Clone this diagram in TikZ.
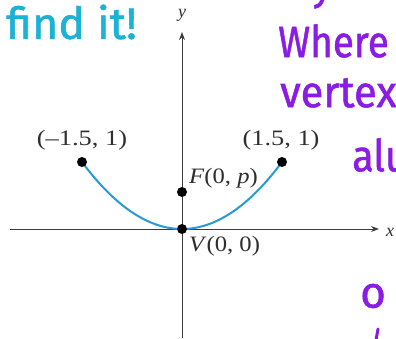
\documentclass[tikz,border=0pt]{standalone}
\usepackage{fontspec}
\setmainfont{Liberation Serif}
\newfontfamily\handfont{Fira Sans}[FakeBold=1.2]
\usetikzlibrary{arrows.meta}
\definecolor{hcyan}{RGB}{28,178,214}
\definecolor{hpurple}{RGB}{138,28,228}
\definecolor{curveblue}{RGB}{40,152,214}
\definecolor{axisgray}{RGB}{60,60,60}
\tikzset{
  axis/.style={draw=axisgray, line width=1pt, -{Stealth[length=8pt,width=6pt]}},
  dot/.style={circle, fill=black, inner sep=0pt, minimum size=10pt},
  lbl/.style={font=\fontsize{22}{26}\selectfont, text=black!82, inner sep=0pt},
  hcy/.style={font=\handfont\fontsize{44}{46}\selectfont, text=hcyan, inner sep=0pt, anchor=west},
  hpu/.style={font=\handfont\fontsize{44}{46}\selectfont, text=hpurple, inner sep=0pt, anchor=west},
}
\begin{document}
\begin{tikzpicture}[x=1pt,y=-1pt]
\useasboundingbox (0,0) rectangle (396,338);
\clip (0,0) rectangle (396,338);
% handwritten notes
\node[hcy] (h1) at (6,22) {\scalebox{1.02}[1]{find it!}};
\node[hpu] (h0) at (312,-8) {\scalebox{0.9}[1]{yo}};
\node[hpu] (h2) at (278,41) {\scalebox{0.88}[1]{Where t}};
\node[hpu] (h3) at (280,93) {\scalebox{0.95}[1]{vertex}};
\node[hpu] (h4) at (352,155) {\scalebox{0.9}[1]{alu}};
\node[hpu] (h5) at (360,296) {o};
\draw[hpurple, line width=3pt, line cap=round] (378,329) -- (376,340);
% axes
\coordinate (ybot) at (182,338);
\coordinate (ytop) at (182,32);
\coordinate (xl) at (10,229);
\coordinate (xr) at (379,229);
\draw[axis] (ybot) -- (ytop);
\draw[axis] (xl) -- (xr);
\node[lbl, font=\fontsize{18}{20}\selectfont\itshape] (ylab) at (182,15) {y};
\node[lbl, font=\fontsize{18}{20}\selectfont\itshape, anchor=west] (xlab) at (386,232) {x};
% parabola
\draw[curveblue, line width=2pt, domain=-100:100, samples=60, smooth]
  plot ({182+\x},{229-0.0067*\x*\x});
% points
\node[dot] (P1) at (82,162) {};
\node[dot] (P2) at (282,162) {};
\node[dot] (F) at (182,192) {};
\node[dot] (V) at (182,229) {};
% labels
\node[lbl] (L1) at (82,140) {\scalebox{1.2}[1]{(–1.5, 1)}};
\node[lbl] (L2) at (281,140) {\scalebox{1.2}[1]{(1.5, 1)}};
\node[lbl, anchor=west] (LF) at (189,178) {\scalebox{1.12}[1]{\textit{F}(0, \textit{p})}};
\node[lbl, anchor=west] (LV) at (189,246) {\scalebox{1.12}[1]{\textit{V}(0, 0)}};
\end{tikzpicture}
\end{document}
